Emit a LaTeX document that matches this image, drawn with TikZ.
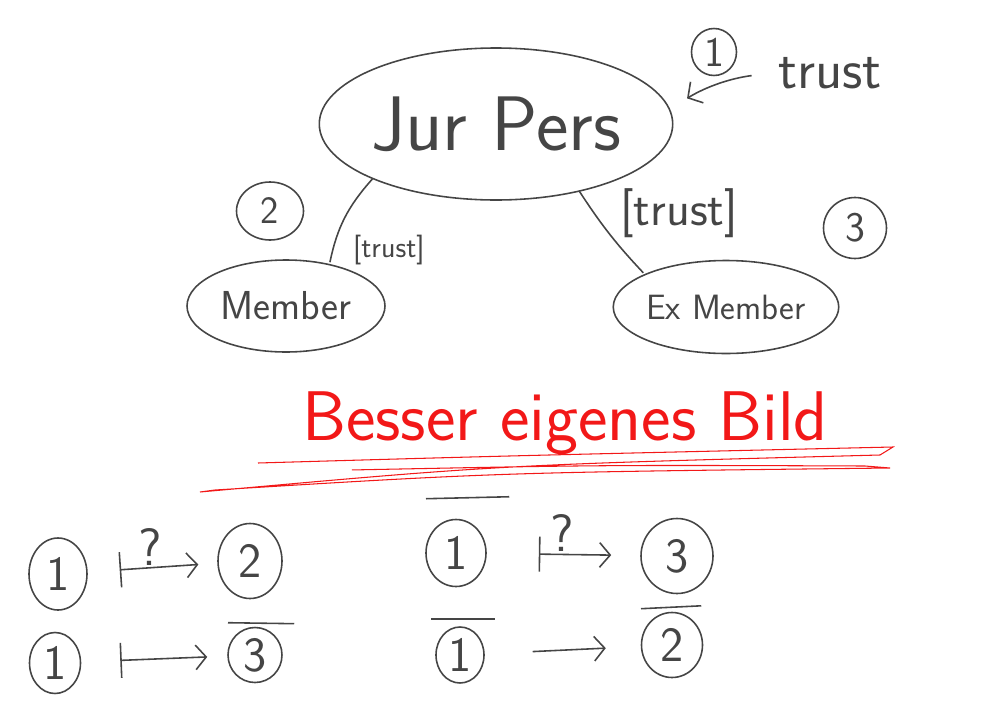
\documentclass[tikz,border=0pt]{standalone}
\usepackage{fontspec}
\usepackage{tikz}
\usetikzlibrary{positioning,shapes.geometric,arrows.meta}
\definecolor{pen}{HTML}{454545}
\definecolor{redpen}{HTML}{F21818}

\begin{document}
\begin{tikzpicture}[shorten >=1pt,node distance=3cm,on grid,auto,
    color=pen,line width=0.9pt,font=\sffamily,
    blob/.style={draw,ellipse,inner sep=0pt},
    num/.style={draw,ellipse,inner sep=0pt,font=\sffamily\fontsize{28}{30}\selectfont},
    maparrow/.style={{Bar[width=20pt]}-{Straight Barb[length=6pt,width=14pt]}},
    plainarrow/.style={-{Straight Barb[length=6pt,width=14pt]}}]
  \useasboundingbox (0,0) rectangle (20,-14.14);

  \node[blob,minimum width=6.86cm,minimum height=3.04cm,
        font=\sffamily\fontsize{44}{48}\selectfont] (jur) at (9.92,-2.48) {Jur Pers};

  \node[blob,minimum width=3.96cm,minimum height=1.84cm,
        font=\sffamily\fontsize{23}{26}\selectfont] (member)
        [below left = 3.64cm and 4.2cm of jur] {Member};
  \node[blob,minimum width=3.88cm,minimum height=1.86cm,
        font=\sffamily\fontsize{20}{24}\selectfont] (exmember)
        [below right = 3.66cm and 4.6cm of jur] {Ex Member};
  \node[font=\sffamily\fontsize{32}{36}\selectfont] (trustlbl)
        [above right = 1.02cm and 6.68cm of jur] {trust};
  \node[num,minimum width=0.9cm,minimum height=0.94cm,font=\sffamily\fontsize{24}{26}\selectfont] (n1)
        [above right = 1.44cm and 4.36cm of jur] {1};
  \node[num,minimum width=1.34cm,minimum height=1.16cm,font=\sffamily\fontsize{22}{24}\selectfont] (n2)
        [below left = 1.74cm and 4.52cm of jur] {2};
  \node[num,minimum width=1.26cm,minimum height=1.22cm,font=\sffamily\fontsize{24}{26}\selectfont] (n3)
        [below right = 2.08cm and 7.18cm of jur] {3};

  \node[text=redpen,font=\sffamily\fontsize{40}{42}\selectfont] (title)
        [below right = 5.98cm and 1.38cm of jur] {Besser eigenes Bild};

  % bottom rows
  \node[num,minimum width=1.16cm,minimum height=1.44cm] (a1) at (1.16,-11.48) {1};
  \node[num,minimum width=1.28cm,minimum height=1.5cm] (a2) at (5.0,-11.22) {2};
  \node[num,minimum width=1.2cm,minimum height=1.34cm] (c1) at (9.12,-11.06) {1};
  \node[num,minimum width=1.44cm,minimum height=1.5cm] (c2) at (13.54,-11.12) {3};
  \node[num,minimum width=1.02cm,minimum height=1.22cm] (b1) at (1.1,-13.26) {1};
  \node[num,minimum width=1.08cm,minimum height=1.1cm] (b2) at (5.1,-13.1) {3};
  \node[num,minimum width=0.96cm,minimum height=1.12cm] (d1) at (9.2,-13.1) {1};
  \node[num,minimum width=1.22cm,minimum height=1.3cm] (d2) at (13.44,-12.9) {2};

  \path[font=\sffamily\fontsize{17}{20}\selectfont]
  (jur.204) edge [bend right=15] node [pos=0.57,inner sep=6pt] {[trust]} (member.44)
  (jur.321) edge [bend right=5] node [pos=0.6,inner sep=2pt,font=\sffamily\fontsize{28}{30}\selectfont] {[trust]} (exmember.158);

  \draw[plainarrow,shorten <=0.4cm,shorten >=0.4cm] (trustlbl.west) to[bend right=12] (jur.5);

  \draw[maparrow,shorten <=0.64cm,shorten >=0.38cm] (a1) -- node[above,pos=0.48,inner sep=1pt,font=\sffamily\fontsize{30}{32}\selectfont] {?} (a2);
  \draw[maparrow,shorten <=1.04cm,shorten >=0.58cm] (c1) -- node[above,pos=0.49,inner sep=1pt,font=\sffamily\fontsize{30}{32}\selectfont] {?} (c2);
  \draw[maparrow,shorten <=0.78cm,shorten >=0.4cm] (b1) -- (b2);
  \draw[plainarrow,shorten <=0.96cm,shorten >=0.7cm] (d1) -- (d2);

  % bars over the numbers
  \draw ([shift={(-0.6,0.4)}]c1.north) -- ([shift={(1.1,0.44)}]c1.north);
  \draw ([shift={(-0.54,0.08)}]b2.north) -- ([shift={(0.82,0.06)}]b2.north);
  \draw ([shift={(-0.58,0.14)}]d1.north) -- ([shift={(0.74,0.14)}]d1.north);
  \draw ([shift={(-0.62,0.06)}]d2.north) -- ([shift={(0.62,0.12)}]d2.north);

  % red underline
  \draw[redpen,line width=0.6pt]
    (5.16,-9.26) .. controls (10,-9.12) .. (17.86,-8.94) -- (17.6,-9.1)
    .. controls (10,-9.3) .. (4.0,-9.84) -- (4.3,-9.8)
    .. controls (10,-9.45) .. (17.8,-9.36) -- (17.3,-9.32)
    .. controls (12,-9.3) .. (7.0,-9.4);
\end{tikzpicture}
\end{document}
